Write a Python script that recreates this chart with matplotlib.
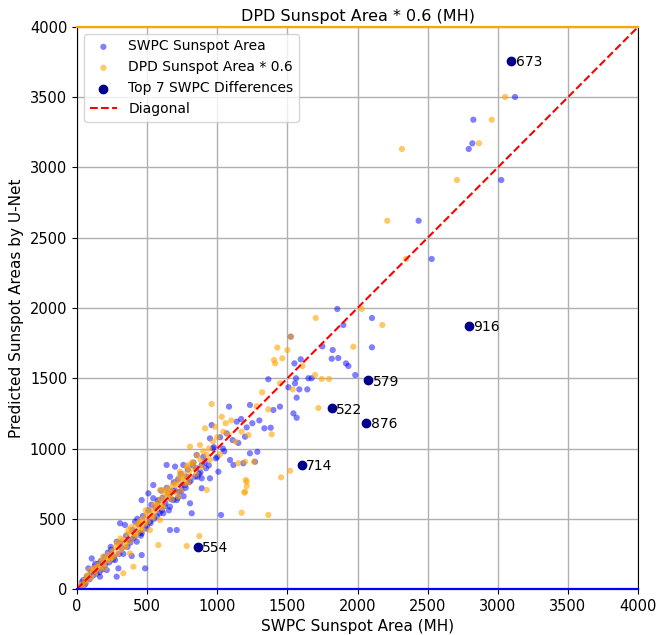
import matplotlib
matplotlib.use('Agg')
import matplotlib.pyplot as plt

# SWPC sunspot area vs U-Net prediction (MH)
swpc_x = [20, 35, 45, 60, 70, 81, 90, 100, 105, 115, 125, 140, 150, 164, 170, 180, 195, 200,
          212, 220, 230, 245, 255, 271, 283, 283, 295, 300, 307, 310, 320, 342, 350, 360, 366,
          390, 395, 410, 414, 426, 440, 450, 461, 461, 461, 470, 485, 490, 509, 510, 520, 530,
          544, 544, 550, 560, 575, 580, 590, 600, 610, 615, 625, 639, 640, 650, 663, 663, 663,
          670, 687, 690, 699, 700, 711, 711, 720, 730, 740, 750, 758, 760, 770, 780, 790, 806,
          810, 818, 830, 841, 850, 853, 870, 889, 889, 889, 900, 920, 948, 948, 960, 970, 990,
          1008, 1020, 1027, 1050, 1067, 1084, 1091, 1115, 1139, 1150, 1186, 1198, 1210, 1233,
          1233, 1269, 1286, 1300, 1336, 1364, 1381, 1400, 1447, 1507, 1524, 1543, 1550, 1554,
          1562, 1566, 1566, 1585, 1595, 1642, 1650, 1673, 1749, 1816, 1823, 1856, 1863, 1899,
          1918, 1935, 1984, 2103, 2103, 2436, 2529, 2793, 2819, 2826, 3025, 3123,
          55, 130, 160, 240, 265, 330, 380, 400, 430, 455, 500, 525, 570, 605, 630, 655, 680,
          720, 745, 775, 800, 825, 860, 880, 910, 940, 975, 1000, 1040, 1110, 1170, 1250]
swpc_y = [15, 50, 64, 40, 90, 147, 70, 120, 218, 95, 160, 110, 180, 88, 200, 140, 230, 170,
          135, 260, 190, 280, 210, 206, 88, 337, 147, 250, 468, 330, 290, 456, 380, 300, 350,
          235, 420, 370, 479, 337, 460, 400, 242, 396, 633, 520, 147, 430, 681, 560, 480, 600,
          646, 740, 500, 580, 620, 633, 540, 700, 650, 539, 590, 883, 720, 680, 586, 799, 420,
          640, 633, 760, 871, 700, 633, 420, 780, 690, 820, 740, 883, 660, 740, 800, 850, 610,
          770, 539, 900, 799, 860, 954, 820, 883, 788, 717, 940, 860, 1072, 788, 1167, 1000, 930,
          835, 1080, 527, 980, 1108, 1298, 918, 883, 1191, 1040, 895, 1084, 1150, 1310,
          966, 906, 977, 1200, 1144, 1493, 1148, 1274, 1298, 1436, 1796, 1250, 1606, 1464,
          1500, 1362, 1219, 1421, 1635, 1421, 1500, 1500, 1727, 1639, 1701, 1993, 1644, 1879,
          1606, 1587, 1523, 1929, 1720, 2621, 2349, 3132, 3172, 3340, 2911, 3502,
          30, 180, 120, 300, 230, 250, 330, 360, 500, 380, 450, 470, 520, 560, 610, 560, 700,
          650, 700, 720, 760, 880, 800, 830, 900, 880, 1010, 940, 1000, 1060, 1210, 1180]

# DPD sunspot area * 0.6 vs U-Net prediction (MH)
dpd_x = [10, 25, 40, 55, 65, 80, 93, 100, 115, 130, 145, 152, 160, 175, 190, 200, 212, 220,
         235, 250, 260, 275, 290, 300, 315, 330, 330, 345, 360, 366, 375, 378, 390, 402, 405,
         420, 430, 445, 455, 470, 480, 495, 505, 520, 520, 535, 550, 556, 565, 580, 580, 592,
         592, 600, 615, 615, 630, 640, 650, 663, 670, 685, 700, 710, 722, 730, 734, 745, 760,
         770, 782, 782, 790, 800, 806, 806, 820, 829, 840, 855, 872, 877, 880, 900, 913, 925,
         925, 940, 960, 970, 984, 1000, 1032, 1043, 1060, 1100, 1150, 1174, 1174, 1193, 1198,
         1198, 1203, 1210, 1210, 1222, 1262, 1280, 1320, 1364, 1364, 1388, 1405, 1412, 1428,
         1447, 1455, 1464, 1500, 1519, 1524, 1538, 1607, 1697, 1702, 1721, 1745, 1797, 1970,
         2030, 2177, 2212, 2317, 2346, 2709, 2866, 2957, 3052,
         70, 120, 185, 245, 285, 310, 350, 385, 415, 440, 465, 490, 540, 575, 610, 645, 675,
         705, 740, 765, 795, 850, 890, 950, 1020, 1080, 1130]
dpd_y = [5, 30, 20, 60, 45, 100, 135, 80, 130, 110, 170, 159, 140, 200, 180, 150, 206, 240,
         210, 270, 230, 300, 250, 320, 280, 112, 350, 300, 390, 420, 340, 254, 410, 159, 370,
         450, 400, 480, 430, 500, 460, 530, 480, 420, 560, 520, 600, 550, 570, 313, 620, 705,
         491, 640, 705, 600, 680, 650, 720, 669, 700, 740, 690, 760, 657, 800, 835, 780, 820,
         750, 871, 306, 880, 840, 1013, 799, 900, 895, 860, 950, 377, 1025, 920, 980, 1144, 954,
         705, 1000, 1317, 1050, 1155, 1080, 1226, 1120, 1180, 1200, 895, 1120, 543, 686, 906,
         693, 776, 764, 733, 1096, 906, 1300, 1400, 1279, 527, 1101, 1630, 1606, 1718,
         1464, 795, 1642, 1701, 842, 1796, 1421, 1587, 1523, 1929, 1288, 1495, 1495, 1724,
         1993, 1879, 2621, 3132, 2349, 2911, 3172, 3340, 3502,
         90, 150, 230, 220, 330, 360, 320, 440, 390, 470, 420, 560, 510, 600, 580, 690, 640,
         740, 700, 790, 760, 820, 870, 920, 960, 1100, 1050]

# top 7 SWPC differences
top_ids = [673, 916, 579, 522, 876, 714, 554]
top_x = [3097, 2793, 2077, 1816, 2063, 1602, 860]
top_y = [3760, 1874, 1488, 1288, 1184, 885, 301]

fig = plt.figure(figsize=(6.72, 6.35), dpi=100)
ax = fig.add_axes([0.1146, 0.0724, 0.8348, 0.8851])

ax.scatter(swpc_x + top_x, swpc_y + top_y, s=20, color='blue', alpha=0.5,
           edgecolors='none', label='SWPC Sunspot Area')
ax.scatter(dpd_x, dpd_y, s=20, color='orange', alpha=0.6,
           edgecolors='none', label='DPD Sunspot Area * 0.6')
ax.scatter(top_x, top_y, s=36, color='darkblue', label='Top 7 SWPC Differences', zorder=4)
for i, tx, ty in zip(top_ids, top_x, top_y):
    ax.annotate(str(i), (tx, ty), xytext=(3, -4), textcoords='offset points', fontsize=10)

ax.plot([0, 4000], [0, 4000], 'r--', linewidth=1.5, label='Diagonal')

ax.set_xlim(0, 4000)
ax.set_ylim(0, 4000)
ax.set_xticks(range(0, 4001, 500))
ax.set_yticks(range(0, 4001, 500))
ax.tick_params(labelsize=10.5)
ax.grid(True, color='#b0b0b0', linewidth=1)
ax.set_axisbelow(True)

ax.spines['top'].set_color('orange')
ax.spines['top'].set_linewidth(1.6)
ax.spines['bottom'].set_color('blue')
ax.spines['bottom'].set_linewidth(1.6)

ax.set_xlabel('SWPC Sunspot Area (MH)', fontsize=11)
ax.set_ylabel('Predicted Sunspot Areas by U-Net', fontsize=11)
ax.set_title('DPD Sunspot Area * 0.6 (MH)', fontsize=11.5, pad=4)
ax.legend(loc='upper left', fontsize=10)

fig.savefig('out.png', dpi=100)
